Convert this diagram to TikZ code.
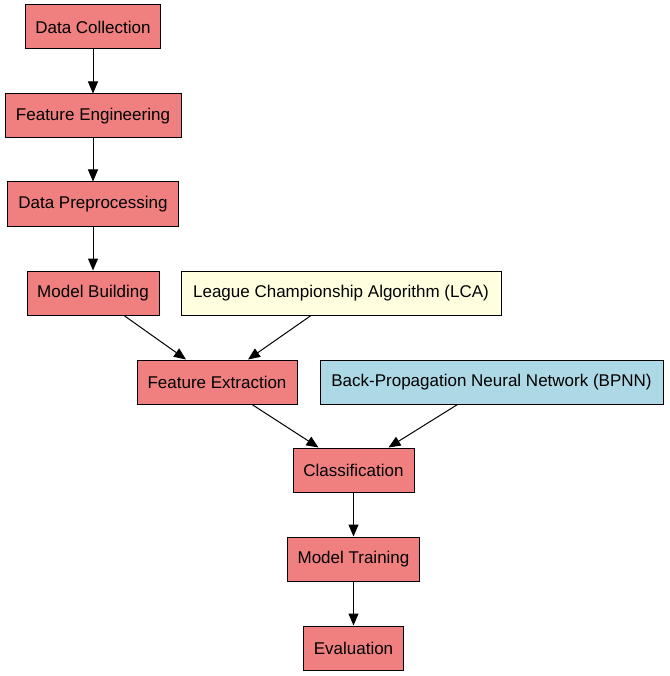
\documentclass[tikz,border=0pt]{standalone}
\usepackage{fontspec}
\setmainfont{Liberation Sans}
\usetikzlibrary{arrows.meta}
\definecolor{coral}{HTML}{F08080}
\definecolor{lyellow}{HTML}{FFFFE0}
\definecolor{lblue}{HTML}{ADD8E6}
\begin{document}
\begin{tikzpicture}[x=1pt,y=-1pt,
  box/.style={draw=black,line width=1pt,rectangle,minimum height=44pt,inner sep=0pt,font=\fontsize{17}{20}\selectfont},
  stage/.style={box,fill=coral},
  edge/.style={draw=black,line width=1pt,-{Triangle[length=12pt,width=10pt]}}]
\useasboundingbox (0,0) rectangle (669,676);
\node[stage,minimum width=135pt] (dc) at (93,27) {Data Collection};
\node[stage,minimum width=176pt] (fe1) at (93,116) {Feature Engineering};
\node[stage,minimum width=171pt] (dp) at (93,204) {Data Preprocessing};
\node[stage,minimum width=132pt] (mb) at (93,293) {Model Building};
\node[box,fill=lyellow,minimum width=320pt] (lca) at (341,293) {League Championship Algorithm (LCA)};
\node[stage,minimum width=160pt] (fx) at (217,382) {Feature Extraction};
\node[box,fill=lblue,minimum width=343pt] (bp) at (491.5,382) {Back-Propagation Neural Network (BPNN)};
\node[stage,minimum width=121pt] (cl) at (353.5,470) {Classification};
\node[stage,minimum width=132pt] (mt) at (353.5,559) {Model Training};
\node[stage,minimum width=100pt] (ev) at (353.5,648) {Evaluation};
\draw[edge] (dc) -- (fe1);
\draw[edge] (fe1) -- (dp);
\draw[edge] (dp) -- (mb);
\draw[edge] ([xshift=31pt]mb.south) -- ([xshift=-31pt]fx.north);
\draw[edge] ([xshift=-30pt]lca.south) -- ([xshift=31pt]fx.north);
\draw[edge] ([xshift=35pt]fx.south) -- ([xshift=-35pt]cl.north);
\draw[edge] ([xshift=-34pt]bp.south) -- ([xshift=35pt]cl.north);
\draw[edge] (cl) -- (mt);
\draw[edge] (mt) -- (ev);
\end{tikzpicture}
\end{document}
